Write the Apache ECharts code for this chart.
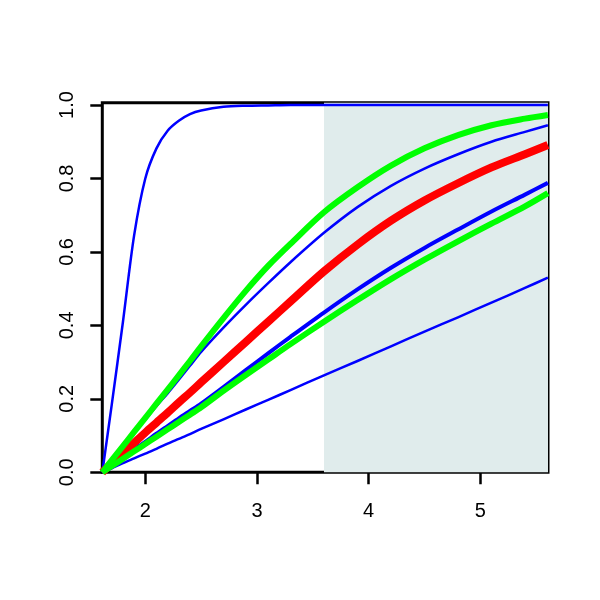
<!DOCTYPE html>
<html>
<head>
<meta charset="utf-8">
<script src="https://cdn.jsdelivr.net/npm/echarts@6/dist/echarts.min.js"></script>
<style>
html,body{margin:0;padding:0;background:#ffffff;}
#chart{width:600px;height:600px;}
</style>
</head>
<body>
<div id="chart"></div>
<script>
// x positions at which the curves were read
const xs = [1.615, 1.7, 1.8, 1.9, 2.0, 2.1, 2.2, 2.3, 2.4, 2.5, 2.7, 2.9, 3.1, 3.3, 3.6, 3.9, 4.2, 4.5, 4.8, 5.1, 5.4, 5.605];

// curve values
const blueSteep  = [0, 0.185, 0.41, 0.645, 0.80, 0.882, 0.93, 0.957, 0.975, 0.985, 0.995, 0.998, 0.999, 1.0, 1.0, 1.0, 1.0, 1.0, 1.0, 1.0, 1.0, 1.0];
const greenUpper = [0, 0.033, 0.071, 0.11, 0.148, 0.187, 0.225, 0.264, 0.303, 0.343, 0.42, 0.494, 0.562, 0.622, 0.708, 0.776, 0.835, 0.882, 0.918, 0.945, 0.963, 0.973];
const blueUpper  = [0, 0.032, 0.069, 0.106, 0.143, 0.18, 0.215, 0.252, 0.29, 0.328, 0.394, 0.456, 0.515, 0.572, 0.652, 0.722, 0.78, 0.827, 0.866, 0.90, 0.927, 0.945];
const redMid     = [0, 0.025, 0.052, 0.08, 0.108, 0.135, 0.162, 0.19, 0.217, 0.245, 0.30, 0.355, 0.41, 0.465, 0.547, 0.62, 0.685, 0.74, 0.787, 0.83, 0.866, 0.891];
const blueMid    = [0, 0.018, 0.04, 0.062, 0.083, 0.105, 0.126, 0.147, 0.167, 0.187, 0.232, 0.278, 0.324, 0.369, 0.435, 0.498, 0.557, 0.611, 0.661, 0.71, 0.756, 0.788];
const greenLower = [0, 0.017, 0.037, 0.057, 0.077, 0.097, 0.117, 0.137, 0.157, 0.177, 0.222, 0.265, 0.307, 0.349, 0.41, 0.469, 0.526, 0.579, 0.629, 0.677, 0.724, 0.760];
const blueLow    = [0, 0.011, 0.025, 0.038, 0.051, 0.064, 0.078, 0.091, 0.104, 0.118, 0.144, 0.171, 0.197, 0.224, 0.264, 0.303, 0.343, 0.383, 0.422, 0.462, 0.502, 0.530];

// axis ticks
const xTicks = [2, 3, 4, 5];
const yTicks = [0, 0.2, 0.4, 0.6, 0.8, 1.0];
const xRange = [1.615, 5.606];
const yRange = [0, 1.0063];
// shaded band
const shadeFrom = 3.6;

function pairs(arr){ return xs.map((x,i)=>[x, arr[i]]); }

const FONT = '"Liberation Sans", Arial, Helvetica, sans-serif';

function lineSeries(name, arr, color, width, z){
  return {
    name: name, type: 'line', data: pairs(arr),
    showSymbol: false, smooth: 0.3,
    lineStyle: {color: color, width: width, cap: 'butt', join: 'round'},
    z: z, silent: true, animation: false, clip: true
  };
}

const chart = echarts.init(document.getElementById('chart'), null, {renderer: 'canvas'});
chart.setOption({
  animation: false,
  backgroundColor: '#ffffff',
  grid: {left: 102.3, right: 52, top: 102.7, bottom: 127.7, show: true,
         borderColor: '#000', borderWidth: 3, backgroundColor: 'transparent'},
  xAxis: {
    type: 'value', min: xRange[0], max: xRange[1],
    splitLine: {show: false},
    axisLine: {show: false},
    axisTick: {show: true, inside: false, length: 12, customValues: xTicks,
               lineStyle: {color: '#000', width: 2.5}},
    axisLabel: {show: true, customValues: xTicks, margin: 29, color: '#000',
                fontSize: 20, fontFamily: FONT, formatter: v => String(v)}
  },
  yAxis: {
    type: 'value', min: yRange[0], max: yRange[1],
    splitLine: {show: false},
    axisLine: {show: false},
    axisTick: {show: true, inside: false, length: 12, customValues: yTicks,
               lineStyle: {color: '#000', width: 2.5}},
    axisLabel: {show: true, customValues: yTicks, margin: 25, rotate: 90, color: '#000',
                fontSize: 20, fontFamily: FONT, formatter: v => v.toFixed(1)}
  },
  series: [
    {
      type: 'line', data: [], z: 1, silent: true,
      markArea: {silent: true, itemStyle: {color: '#e0ecec'},
        data: [[{xAxis: shadeFrom, yAxis: yRange[0]}, {xAxis: xRange[1], yAxis: yRange[1]}]]}
    },
    lineSeries('b1', blueSteep, '#0000ff', 2.5, 3),
    lineSeries('b2', blueUpper, '#0000ff', 2.5, 3),
    lineSeries('b3', blueMid, '#0000ff', 4, 3),
    lineSeries('b4', blueLow, '#0000ff', 2.5, 3),
    lineSeries('r', redMid, '#ff0000', 8, 4),
    lineSeries('g1', greenUpper, '#00ff00', 6, 5),
    lineSeries('g2', greenLower, '#00ff00', 6, 5)
  ]
});
</script>
</body>
</html>
